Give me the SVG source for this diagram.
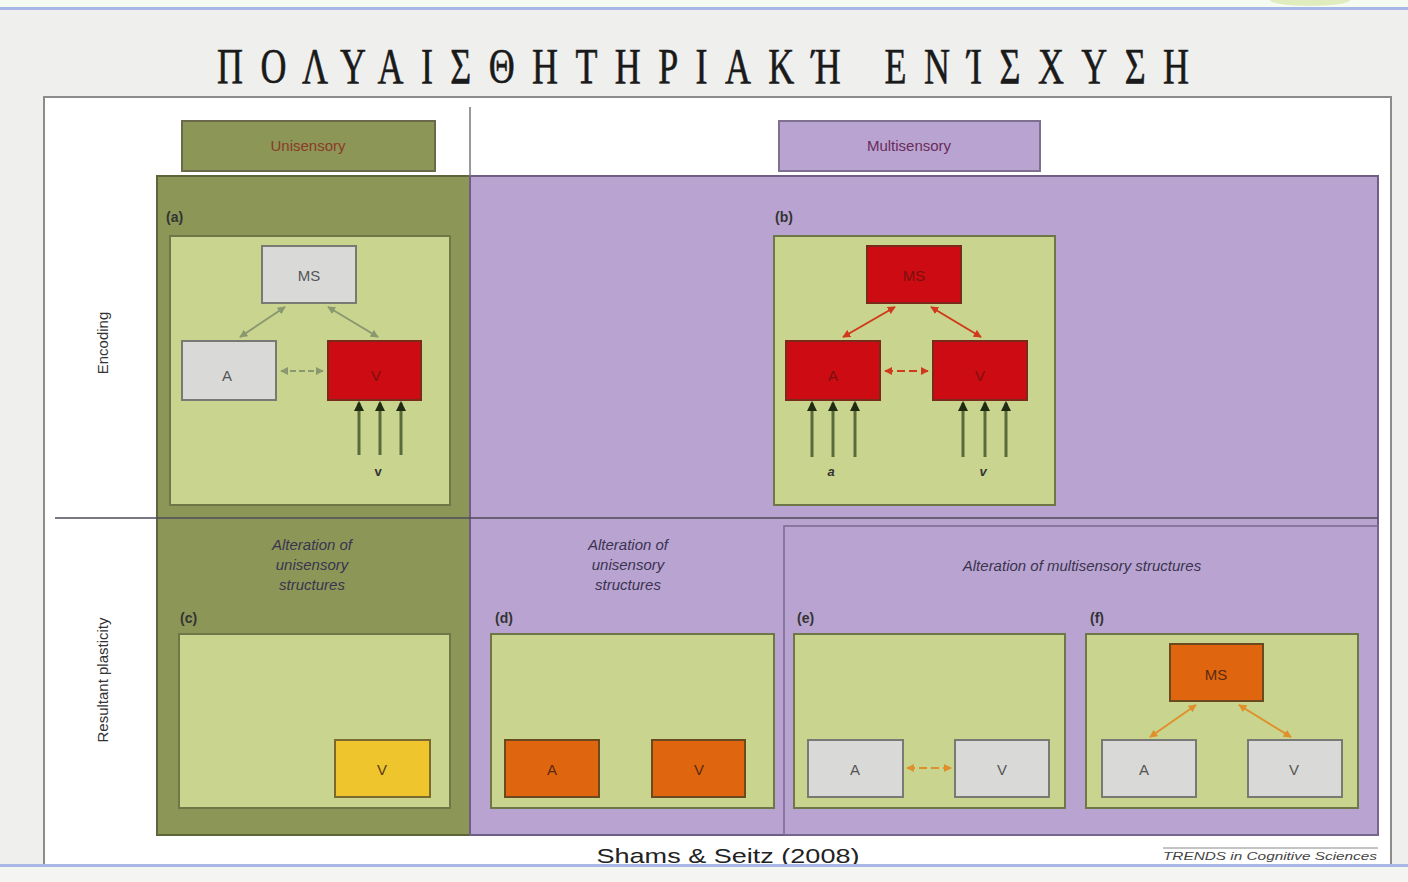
<svg xmlns="http://www.w3.org/2000/svg" width="1408" height="882" viewBox="0 0 1408 882">
<defs>
<style>
.lbl{font-family:"Liberation Sans",Arial,sans-serif;font-size:15px;text-anchor:middle;}
.pl{font-family:"Liberation Sans",Arial,sans-serif;font-size:14px;font-weight:bold;fill:#333;}
.it{font-family:"Liberation Sans",Arial,sans-serif;font-size:15px;font-style:italic;fill:#3a3450;text-anchor:middle;}
.inner{fill:#c9d48e;stroke:#6e7748;stroke-width:2;}
.gbox{fill:#d9d9d8;stroke:#7a7a74;stroke-width:2;}
.rbox{fill:#cc0c12;stroke:#7a2a1a;stroke-width:2;}
.obox{fill:#e0650f;stroke:#6b4a20;stroke-width:2;}
.ybox{fill:#efc52d;stroke:#7a6a30;stroke-width:2;}
.ga{stroke:#8a9870;stroke-width:2;fill:none;marker-start:url(#hg);marker-end:url(#hg);}
.ra{stroke:#d03a1c;stroke-width:2;fill:none;marker-start:url(#hr);marker-end:url(#hr);}
.oa{stroke:#e0902a;stroke-width:2;fill:none;marker-start:url(#ho);marker-end:url(#ho);}
.va{stroke:#5b6a3a;stroke-width:3;fill:none;marker-end:url(#hk);}
</style>
<marker id="hg" viewBox="0 0 10 10" refX="9" refY="5" markerWidth="4" markerHeight="4" orient="auto-start-reverse"><path d="M0,0L10,5L0,10z" fill="#8a9870"/></marker>
<marker id="hr" viewBox="0 0 10 10" refX="9" refY="5" markerWidth="4" markerHeight="4" orient="auto-start-reverse"><path d="M0,0L10,5L0,10z" fill="#d03a1c"/></marker>
<marker id="ho" viewBox="0 0 10 10" refX="9" refY="5" markerWidth="4" markerHeight="4" orient="auto-start-reverse"><path d="M0,0L10,5L0,10z" fill="#e0902a"/></marker>
<marker id="hk" viewBox="0 0 10 10" refX="8" refY="5" markerWidth="3.5" markerHeight="3.5" orient="auto"><path d="M0,0L10,5L0,10z" fill="#1e2a12"/></marker>
</defs>

<!-- background -->
<rect x="0" y="0" width="1408" height="882" fill="#efefee"/>
<rect x="0" y="0" width="1408" height="8" fill="#f6fbf2"/>
<ellipse cx="1310" cy="0" rx="40" ry="6" fill="#d8e6a8" opacity="0.7"/>
<rect x="0" y="7" width="1408" height="3" fill="#a9b7e6"/>
<rect x="0" y="866" width="1408" height="16" fill="#f4f4f3"/>

<!-- title -->
<g transform="scale(0.72,1)">
<text x="976.4" y="83" font-family="'Liberation Serif','DejaVu Serif',serif" font-size="50" fill="#1a1a1a" stroke="#1a1a1a" stroke-width="0.6" text-anchor="middle" textLength="1350" lengthAdjust="spacing">ΠΟΛΥΑΙΣΘΗΤΗΡΙΑΚΉ ΕΝΊΣΧΥΣΗ</text>
</g>

<!-- figure frame -->
<rect x="44" y="97" width="1347" height="768" fill="#ffffff" stroke="#8c8c8c" stroke-width="2"/>

<!-- big panels -->
<g id="panel-unisensory">
<rect x="157" y="176" width="313" height="659" fill="#8b9657" stroke="#5d6638" stroke-width="2"/>
</g>
<g id="panel-multisensory">
<rect x="470" y="176" width="908" height="659" fill="#b9a3d1" stroke="#6f5f86" stroke-width="2"/>
<rect x="784" y="526" width="594" height="309" fill="none" stroke="#7a6a92" stroke-width="1.5"/>
</g>

<!-- separators -->
<line x1="470" y1="107" x2="470" y2="176" stroke="#777" stroke-width="1.5"/>
<line x1="55" y1="518" x2="1378" y2="518" stroke="#4f4a5a" stroke-width="1.5"/>

<!-- headers -->
<g id="hdr-unisensory">
<rect x="182" y="121" width="253" height="50" fill="#8b9657" stroke="#6a6a4a" stroke-width="2"/>
<text class="lbl" x="308" y="151" fill="#8b3a28">Unisensory</text>
</g>
<g id="hdr-multisensory">
<rect x="779" y="121" width="261" height="50" fill="#b9a3d1" stroke="#807090" stroke-width="2"/>
<text class="lbl" x="909" y="151" fill="#6a2c5c">Multisensory</text>
</g>

<!-- row labels -->
<text class="lbl" transform="translate(108,343) rotate(-90)" fill="#333" font-size="15">Encoding</text>
<text class="lbl" transform="translate(108,680) rotate(-90)" fill="#333" font-size="15">Resultant plasticity</text>

<!-- (a) -->
<g id="panel-a">
<text class="pl" x="166" y="222">(a)</text>
<rect class="inner" x="170" y="236" width="280" height="269"/>
</g>
<g id="a-MS"><rect class="gbox" x="262" y="246" width="94" height="57"/><text class="lbl" x="309" y="281" fill="#555">MS</text></g>
<g id="a-A"><rect class="gbox" x="182" y="341" width="94" height="59"/><text class="lbl" x="227" y="381" fill="#555">A</text></g>
<g id="a-V"><rect class="rbox" x="328" y="341" width="93" height="59"/><text class="lbl" x="376" y="381" fill="#7a1010">V</text></g>
<text x="378" y="476" font-family="'Liberation Sans',Arial,sans-serif" font-size="13" font-weight="bold" fill="#333" text-anchor="middle">v</text>

<!-- (b) -->
<g id="panel-b">
<text class="pl" x="775" y="222">(b)</text>
<rect class="inner" x="774" y="236" width="281" height="269"/>
</g>
<g id="b-MS"><rect class="rbox" x="867" y="246" width="94" height="57"/><text class="lbl" x="914" y="281" fill="#7a1010">MS</text></g>
<g id="b-A"><rect class="rbox" x="786" y="341" width="94" height="59"/><text class="lbl" x="833" y="381" fill="#7a1010">A</text></g>
<g id="b-V"><rect class="rbox" x="933" y="341" width="94" height="59"/><text class="lbl" x="980" y="381" fill="#7a1010">V</text></g>
<text x="831" y="476" font-family="'Liberation Sans',Arial,sans-serif" font-size="13" font-style="italic" font-weight="bold" fill="#333" text-anchor="middle">a</text>
<text x="983" y="476" font-family="'Liberation Sans',Arial,sans-serif" font-size="13" font-style="italic" font-weight="bold" fill="#333" text-anchor="middle">v</text>

<!-- bottom captions -->
<text class="it" x="312" y="550">Alteration of</text>
<text class="it" x="312" y="570">unisensory</text>
<text class="it" x="312" y="590">structures</text>
<text class="it" x="628" y="550">Alteration of</text>
<text class="it" x="628" y="570">unisensory</text>
<text class="it" x="628" y="590">structures</text>
<text class="it" x="1082" y="571">Alteration of multisensory structures</text>

<!-- (c) -->
<g id="panel-c">
<text class="pl" x="180" y="623">(c)</text>
<rect class="inner" x="179" y="634" width="271" height="174"/>
</g>
<g id="c-V"><rect class="ybox" x="335" y="740" width="95" height="57"/><text class="lbl" x="382" y="775" fill="#5a3a10">V</text></g>

<!-- (d) -->
<g id="panel-d">
<text class="pl" x="495" y="623">(d)</text>
<rect class="inner" x="491" y="634" width="283" height="174"/>
</g>
<g id="d-A"><rect class="obox" x="505" y="740" width="94" height="57"/><text class="lbl" x="552" y="775" fill="#5a2a10">A</text></g>
<g id="d-V"><rect class="obox" x="652" y="740" width="93" height="57"/><text class="lbl" x="699" y="775" fill="#5a2a10">V</text></g>

<!-- (e) -->
<g id="panel-e">
<text class="pl" x="797" y="623">(e)</text>
<rect class="inner" x="794" y="634" width="271" height="174"/>
</g>
<g id="e-A"><rect class="gbox" x="808" y="740" width="95" height="57"/><text class="lbl" x="855" y="775" fill="#555">A</text></g>
<g id="e-V"><rect class="gbox" x="955" y="740" width="94" height="57"/><text class="lbl" x="1002" y="775" fill="#555">V</text></g>

<!-- (f) -->
<g id="panel-f">
<text class="pl" x="1090" y="623">(f)</text>
<rect class="inner" x="1086" y="634" width="272" height="174"/>
</g>
<g id="f-MS"><rect class="obox" x="1170" y="644" width="93" height="57"/><text class="lbl" x="1216" y="680" fill="#5a2a10">MS</text></g>
<g id="f-A"><rect class="gbox" x="1102" y="740" width="94" height="57"/><text class="lbl" x="1144" y="775" fill="#555">A</text></g>
<g id="f-V"><rect class="gbox" x="1248" y="740" width="94" height="57"/><text class="lbl" x="1294" y="775" fill="#555">V</text></g>

<!-- connectors -->
<g id="connectors">
<line class="ga" x1="285" y1="307" x2="240" y2="337"/>
<line class="ga" x1="328" y1="307" x2="378" y2="337"/>
<line class="ga" x1="281" y1="371" x2="323" y2="371" stroke-dasharray="6 3"/>
<line class="va" x1="359" y1="455" x2="359" y2="403"/>
<line class="va" x1="380" y1="455" x2="380" y2="403"/>
<line class="va" x1="401" y1="455" x2="401" y2="403"/>

<line class="ra" x1="895" y1="307" x2="843" y2="337"/>
<line class="ra" x1="931" y1="307" x2="981" y2="337"/>
<line class="ra" x1="885" y1="371" x2="928" y2="371" stroke-dasharray="8 4"/>
<line class="va" x1="812" y1="457" x2="812" y2="403"/>
<line class="va" x1="833" y1="457" x2="833" y2="403"/>
<line class="va" x1="855" y1="457" x2="855" y2="403"/>
<line class="va" x1="963" y1="457" x2="963" y2="403"/>
<line class="va" x1="985" y1="457" x2="985" y2="403"/>
<line class="va" x1="1006" y1="457" x2="1006" y2="403"/>

<line class="oa" x1="907" y1="768" x2="951" y2="768" stroke-dasharray="8 4"/>
<line class="oa" x1="1196" y1="705" x2="1150" y2="737"/>
<line class="oa" x1="1239" y1="705" x2="1291" y2="737"/>
</g>

<!-- footer -->
<text x="728" y="863" font-family="'Liberation Sans',Arial,sans-serif" font-size="21" fill="#222" text-anchor="middle" textLength="263" lengthAdjust="spacingAndGlyphs">Shams &amp; Seitz (2008)</text>
<line x1="1163" y1="848" x2="1378" y2="848" stroke="#888" stroke-width="1"/>
<text x="1270" y="860" font-family="'Liberation Sans',Arial,sans-serif" font-size="11" font-style="italic" fill="#444" text-anchor="middle" textLength="214" lengthAdjust="spacingAndGlyphs">TRENDS in Cognitive Sciences</text>
<rect x="0" y="864" width="1408" height="3" fill="#a9b7e6"/>
</svg>
